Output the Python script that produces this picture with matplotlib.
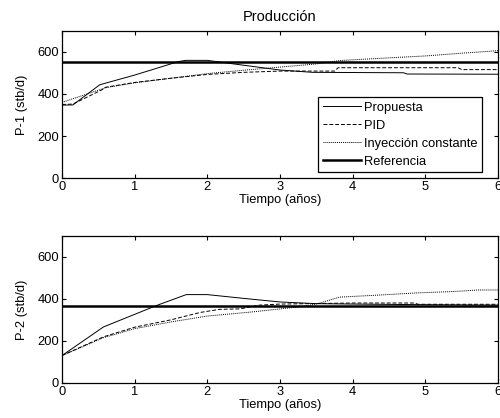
import matplotlib
matplotlib.use("Agg")
import matplotlib.pyplot as plt

plt.rcParams["font.family"] = ["Liberation Sans", "DejaVu Sans"]
plt.rcParams["font.size"] = 9.3

# P-1
t_prop1 = [0, 0.15, 0.52, 1.0, 1.6, 1.7, 2.0, 2.3, 3.0, 3.45, 4.7, 4.75, 6.0]
v_prop1 = [347, 348, 444, 490, 554, 560, 560, 546, 514, 503, 501, 495, 494]
t_pid1 = [0, 0.15, 0.55, 0.6, 1.0, 1.5, 2.0, 2.5, 3.0, 3.75, 3.8, 5.45, 5.5, 6.0]
v_pid1 = [350, 352, 420, 432, 455, 475, 493, 503, 509, 509, 525, 525, 516, 516]
t_iny1 = [0, 0.5, 0.6, 1.0, 1.5, 2.0, 2.5, 3.0, 3.5, 3.82, 4.5, 5.0, 5.5, 6.0]
v_iny1 = [360, 418, 430, 453, 475, 497, 513, 528, 543, 559, 572, 581, 594, 606]
ref1 = 550

# P-2
t_prop2 = [0, 0.57, 1.3, 1.71, 2.0, 2.5, 3.0, 3.5, 4.0, 5.0, 6.0]
v_prop2 = [130, 266, 368, 420, 420, 402, 385, 377, 375, 372, 370]
t_pid2 = [0, 0.57, 1.0, 1.5, 1.9, 2.17, 2.45, 2.72, 3.0, 4.0, 4.85, 4.9, 6.0]
v_pid2 = [130, 219, 265, 300, 335, 350, 352, 370, 375, 380, 380, 374, 374]
t_iny2 = [0, 0.57, 1.0, 1.5, 2.0, 2.6, 3.27, 3.5, 3.82, 4.37, 4.88, 5.4, 5.73, 6.0]
v_iny2 = [130, 215, 258, 290, 318, 337, 362, 375, 408, 418, 428, 435, 442, 442]
ref2 = 365

xticks = [0, 1, 2, 3, 4, 5, 6]
yticks = [0, 200, 400, 600]

fig = plt.figure(figsize=(5.0, 4.18), dpi=100)
ax1 = fig.add_axes([0.124, 0.574, 0.872, 0.352])
ax2 = fig.add_axes([0.124, 0.084, 0.872, 0.352])

panels = [
    (ax1, t_prop1, v_prop1, t_pid1, v_pid1, t_iny1, v_iny1, ref1, "P-1 (stb/d)"),
    (ax2, t_prop2, v_prop2, t_pid2, v_pid2, t_iny2, v_iny2, ref2, "P-2 (stb/d)"),
]

for ax, tp, vp, td, vd, ti, vi, ref, ylab in panels:
    ax.plot(tp, vp, color="black", lw=0.7, label="Propuesta")
    ax.plot(td, vd, color="black", lw=0.7, ls=(0, (4, 2)), label="PID")
    ax.plot(ti, vi, color="black", lw=0.7, ls=(0, (1, 1)), label="Inyección constante")
    ax.plot([0, 6], [ref, ref], color="black", lw=1.8, label="Referencia")
    ax.set_xlim(0, 6)
    ax.set_ylim(0, 700)
    ax.set_xticks(xticks)
    ax.set_yticks(yticks)
    ax.tick_params(direction="in", top=True, right=True, length=3, width=0.8, pad=2)
    for s in ax.spines.values():
        s.set_linewidth(0.9)
    ax.set_xlabel("Tiempo (años)", labelpad=1)
    ax.set_ylabel(ylab, labelpad=7)

ax1.set_title("Producción", fontsize=10.5, pad=7)
leg = ax1.legend(loc="lower right", bbox_to_anchor=(0.963, 0.041), borderaxespad=0,
                 fontsize=9.3, handlelength=3.0, labelspacing=0.45, fancybox=False,
                 framealpha=1, edgecolor="black", handletextpad=0.2, borderpad=0.35)
leg.get_frame().set_linewidth(0.9)

fig.savefig("out.png", dpi=100)
